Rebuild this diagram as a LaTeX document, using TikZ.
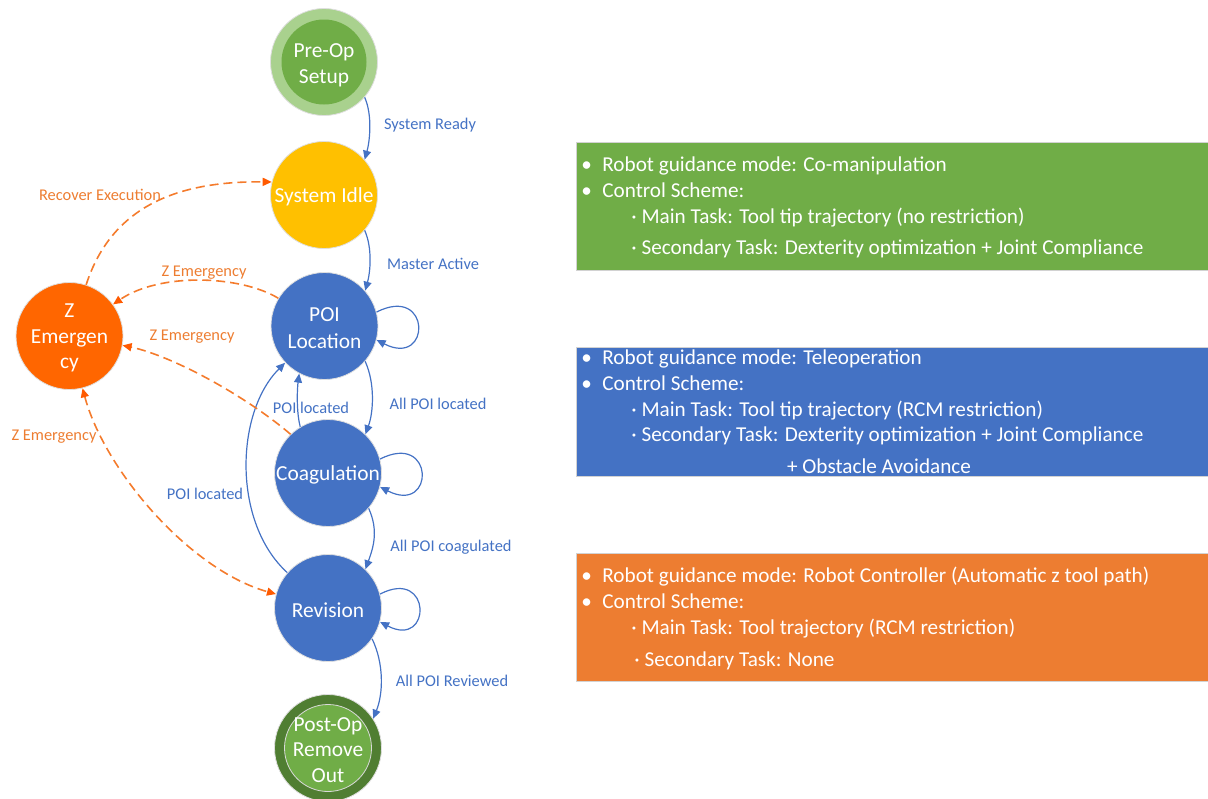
\documentclass[tikz,border=0pt]{standalone}
\usepackage{fontspec}
\setmainfont{Carlito}
\usetikzlibrary{arrows.meta}
\definecolor{cgreen}{HTML}{70AD47}
\definecolor{clgreen}{HTML}{A9D18E}
\definecolor{cdgreen}{HTML}{507E32}
\definecolor{cyellow}{HTML}{FFC000}
\definecolor{cblue}{HTML}{4472C4}
\definecolor{corange}{HTML}{ED7D31}
\definecolor{cred}{HTML}{FF6600}
\definecolor{cdash}{HTML}{F47B2C}
\definecolor{ctip}{HTML}{FF5A00}
\tikzset{
  Btip/.tip={Triangle[length=4.5pt,width=4pt]},
  Otip/.tip={Triangle[length=4.5pt,width=4pt,color=ctip]},
}
\begin{document}
\begin{tikzpicture}[x=0.5pt,y=-0.5pt,
  state/.style={circle, minimum size=53.5pt, inner sep=0pt, draw=gray!25, line width=0.4pt},
  stext/.style={text=white, align=center, inner sep=0pt, yshift=-1pt, font=\fontsize{10.7}{12.8}\selectfont},
  bedge/.style={draw=cblue, line width=0.6pt, -Btip},
  oedge/.style={draw=cdash, line width=0.8pt, dash pattern=on 4.5pt off 2.5pt, -Otip},
  blbl/.style={font=\fontsize{8.2}{10}\selectfont, text=cblue, inner sep=0pt},
  olbl/.style={font=\fontsize{8.2}{10}\selectfont, text=corange, inner sep=0pt},
  infobox/.style={draw=gray!35, line width=0.5pt},
  btxt/.style={anchor=west, text=white, font=\fontsize{10.6}{12}\selectfont, inner sep=0pt, text height=7.5pt, text depth=2pt, yshift=-1.25pt},
]
\useasboundingbox (0,0) rectangle (1208,798);

% states
\node[state, fill=clgreen] (preop) at (324,62) {};
\node[state, minimum size=42.5pt, fill=cgreen, draw=none] (preopin) at (preop) {};
\node[stext, yshift=-0.5pt] (preoptxt) at (preop) {Pre-Op\\Setup};
\node[state, fill=cyellow] (idle) at (324,195) {};
\node[stext] (idletxt) at (idle) {System Idle};
\node[state, fill=cblue] (poi) at (324.5,326) {};
\node[stext, font=\fontsize{10.7}{13.5}\selectfont] (poitxt) at (poi) {POI\\Location};
\node[state, fill=cblue] (coag) at (328,473) {};
\node[stext] (coagtxt) at (coag) {Coagulation};
\node[state, fill=cblue] (rev) at (328,608) {};
\node[stext] (revtxt) at (rev) {Revision};
\node[state, fill=cdgreen] (post) at (328,748) {};
\node[state, minimum size=43.5pt, fill=cgreen, draw=gray!30] (postin) at (post) {};
\node[stext] (posttxt) at (post) {Post-Op\\Remove\\Out};
\node[state, fill=cred] (zem) at (69.5,336) {};
\node[stext] (zemtxt) at (zem) {Z\\Emergen\\cy};

% blue transitions
\draw[bedge] (preop.-41) .. controls +(8,18) and +(5,-18) .. (idle.41);
\draw[bedge] (idle.-41) .. controls +(8,18) and +(5,-18) .. (poi.41);
\draw[bedge] (poi.-41) .. controls +(10,22) and +(8,-22) .. (coag.46);
\draw[bedge] (coag.-41) .. controls +(10,22) and +(8,-22) .. (rev.46);
\draw[bedge] (rev.-35) .. controls +(12,25) and +(10,-25) .. (post.33);
\draw[bedge] (poi.15) .. controls +(55,-28) and +(55,28) .. (poi.-15);
\draw[bedge] (coag.15) .. controls +(55,-28) and +(55,28) .. (coag.-15);
\draw[bedge] (rev.15) .. controls +(52,-27) and +(52,27) .. (rev.-15);
\draw[bedge] (coag.121) .. controls +(-4,-15) and +(-2,15) .. (poi.242);
\draw[bedge] (rev.139) .. controls +(-55,-50) and +(-50,50) .. (poi.223);

% orange transitions
\draw[oedge] (zem.72) .. controls +(26,-80) and +(-92,-1) .. (idle.166);
\draw[oedge] (poi.149) .. controls +(-38,-23) and +(47,-32) .. (zem.36);
\draw[oedge] (coag.134) .. controls +(-47,-40) and +(48,10) .. (zem.-10);
\draw[oedge, Otip-Otip] (zem.-76) .. controls +(22,82) and +(-86,-24) .. (rev.165);

% labels
\node[blbl] (l1) at (430,125) {System Ready};
\node[blbl] (l2) at (433,264) {Master Active};
\node[blbl] (l3) at (438,404) {All POI located};
\node[blbl] (l4) at (451,547) {All POI coagulated};
\node[blbl] (l5) at (452,681) {All POI Reviewed};
\node[blbl] (l6) at (311,408) {POI located};
\node[blbl] (l7) at (205,494) {POI located};
\node[olbl] (l8) at (100,195) {Recover Execution};
\node[olbl] (l9) at (204,273) {Z Emergency};
\node[olbl] (l10) at (192,337) {Z Emergency};
\node[olbl] (l11) at (54,437) {Z Emergency};

% info boxes
\filldraw[infobox, fill=cgreen] (576,142) rectangle (1212,270);
\filldraw[infobox, fill=cblue] (576,347) rectangle (1212,476);
\filldraw[infobox, fill=corange] (576,553) rectangle (1212,681);

\node[btxt] (g1b) at (581,163) {•};
\node[btxt] (g1) at (602,163) {Robot guidance mode: Co-manipulation};
\node[btxt] (g2b) at (581,189) {•};
\node[btxt] (g2) at (602,189) {Control Scheme:};
\node[btxt] (g3) at (631,215) {· Main Task: Tool tip trajectory (no restriction)};
\node[btxt] (g4) at (631,246) {· Secondary Task: Dexterity optimization + Joint Compliance};

\node[btxt] (b1b) at (581,356) {•};
\node[btxt] (b1) at (602,356) {Robot guidance mode: Teleoperation};
\node[btxt] (b2b) at (581,382) {•};
\node[btxt] (b2) at (602,382) {Control Scheme:};
\node[btxt] (b3) at (631,408) {· Main Task: Tool tip trajectory (RCM restriction)};
\node[btxt] (b4) at (631,433) {· Secondary Task: Dexterity optimization + Joint Compliance};
\node[btxt, anchor=center] (b5) at (879,465) {+ Obstacle Avoidance};

\node[btxt] (o1b) at (581,574) {•};
\node[btxt] (o1) at (602,574) {Robot guidance mode: Robot Controller (Automatic z tool path)};
\node[btxt] (o2b) at (581,600) {•};
\node[btxt] (o2) at (602,600) {Control Scheme:};
\node[btxt] (o3) at (631,626) {· Main Task: Tool trajectory (RCM restriction)};
\node[btxt] (o4) at (634,658) {· Secondary Task: None};
\end{tikzpicture}
\end{document}
